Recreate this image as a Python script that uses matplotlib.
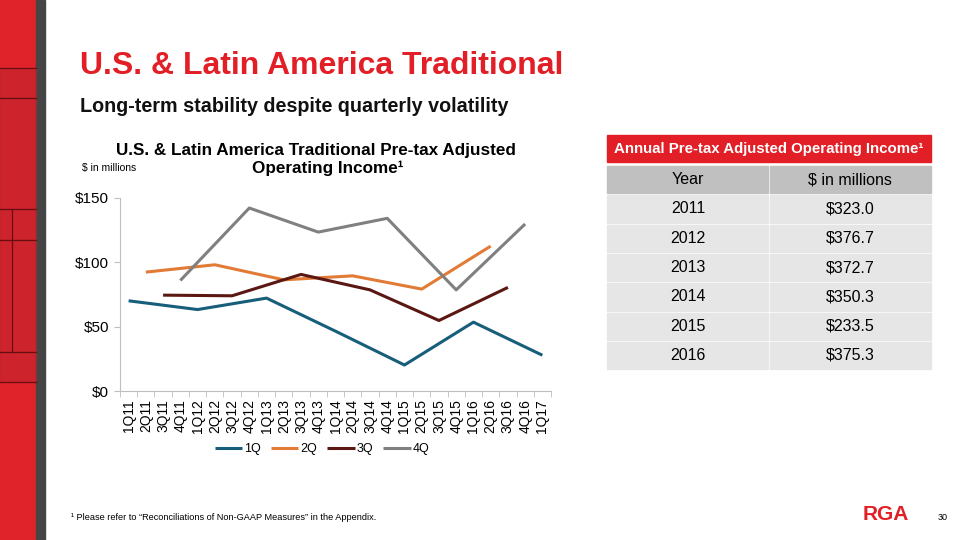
import numpy as np
import matplotlib.pyplot as plt
from matplotlib.patches import Rectangle

# Data
quarters = ["1Q11", "2Q11", "3Q11", "4Q11", "1Q12", "2Q12", "3Q12", "4Q12",
            "1Q13", "2Q13", "3Q13", "4Q13", "1Q14", "2Q14", "3Q14", "4Q14",
            "1Q15", "2Q15", "3Q15", "4Q15", "1Q16", "2Q16", "3Q16", "4Q16", "1Q17"]
q1 = [70.1, 63.3, 72.2, 46.5, 20.2, 53.5, 27.8]
q2 = [92.4, 98.1, 86.4, 89.5, 79.2, 112.6]
q3 = [74.5, 74.0, 90.6, 78.6, 54.8, 80.5]
q4 = [85.9, 142.2, 123.5, 134.2, 78.6, 129.8]
series_names = ["1Q", "2Q", "3Q", "4Q"]
series_colors = ["#175e7b", "#e27b36", "#5b1712", "#808080"]

years = ["2011", "2012", "2013", "2014", "2015", "2016"]
annual = ["$323.0", "$376.7", "$372.7", "$350.3", "$233.5", "$375.3"]

RED = "#e21f26"

fig = plt.figure(figsize=(9.6, 5.4), dpi=100)
plt.rcParams['font.family'] = ['Liberation Sans', 'DejaVu Sans']

def px(x, y):
    return x / 960, 1 - y / 540

# left decoration strip
fig.patches.append(Rectangle((0, 0), 36 / 960, 1, transform=fig.transFigure, color="#e0222b", zorder=0))
fig.patches.append(Rectangle((36 / 960, 0), 9 / 960, 1, transform=fig.transFigure, color="#454545", zorder=0))
for (y0, y1) in [(68, 98), (98, 209), (209, 240), (240, 352), (352, 382)]:
    fig.patches.append(Rectangle((0, 1 - y1 / 540), 36 / 960, (y1 - y0) / 540,
                                 transform=fig.transFigure, color="#b52630", alpha=0.45, zorder=1))
for yy in [68, 98, 209, 240, 352, 382]:
    fig.add_artist(plt.Line2D([0, 36 / 960], [1 - yy / 540] * 2, transform=fig.transFigure, color="#6a0d10", lw=0.9))
fig.add_artist(plt.Line2D([12 / 960] * 2, [1 - 209 / 540, 1 - 352 / 540], transform=fig.transFigure, color="#6a0d10", lw=0.9))

# titles
fig.text(*px(80, 66), "U.S. & Latin America Traditional", color=RED, fontsize=23, fontweight="bold", va="center")
fig.text(*px(80, 107), "Long-term stability despite quarterly volatility", color="#111111", fontsize=14.2, fontweight="bold", va="center")

# chart
ax = fig.add_axes([120 / 960, 1 - 391 / 540, 431 / 960, 193 / 540])
x_all = np.arange(len(quarters))
for k, (vals, name, col) in enumerate(zip([q1, q2, q3, q4], series_names, series_colors)):
    xs = x_all[k::4][:len(vals)]
    ax.plot(xs, vals, color=col, lw=2.2, label=name, solid_capstyle="butt")

ax.set_xlim(-0.5, len(quarters) - 0.5)
ax.set_ylim(0, 150)
ax.set_yticks([0, 50, 100, 150])
ax.set_yticklabels(["$0", "$50", "$100", "$150"], fontsize=11)
ax.set_xticks(x_all)
ax.set_xticklabels(quarters, rotation=90, fontsize=10)
ax.set_xticks(np.arange(-0.5, len(quarters)), minor=True)
ax.tick_params(axis="x", which="major", length=0, pad=6)
ax.tick_params(axis="x", which="minor", length=4, color="#bfbfbf")
ax.tick_params(axis="y", length=4, color="#bfbfbf", pad=4)
for s in ["top", "right"]:
    ax.spines[s].set_visible(False)
for s in ["left", "bottom"]:
    ax.spines[s].set_color("#bfbfbf")
ax.patch.set_alpha(0)

fig.text(*px(316, 150), "U.S. & Latin America Traditional Pre-tax Adjusted", ha="center", va="center", fontsize=12.3, fontweight="bold")
fig.text(*px(328, 168), "Operating Income\u00b9", ha="center", va="center", fontsize=12.3, fontweight="bold")
fig.text(*px(82, 168), "$ in millions", fontsize=7.5, va="center")

fig.legend(loc="center", bbox_to_anchor=px(322, 449), ncol=4, frameon=False, fontsize=9,
           handlelength=2.2, columnspacing=0.8, handletextpad=0.15)

# table
tx0, tx1, tmid = 607, 931, 769
fig.patches.append(Rectangle(px(tx0, 162), (tx1 - tx0) / 960, 27 / 540, transform=fig.transFigure, color=RED))
fig.text(*px(tx0 + 7, 149), "Annual Pre-tax Adjusted Operating Income\u00b9", color="white", fontsize=10.8,
         fontweight="bold", va="center")
row_h = 29.3
top = 166
rows = [("Year", "$ in millions")] + list(zip(years, annual))
for i, (a, b) in enumerate(rows):
    y0 = top + i * row_h
    col = "#c0c0c0" if i == 0 else "#e6e6e6"
    for (cx0, cx1) in [(tx0, tmid - 1), (tmid + 1, tx1)]:
        fig.patches.append(Rectangle(px(cx0, y0 + row_h - 2), (cx1 - cx0) / 960, (row_h - 2) / 540,
                                     transform=fig.transFigure, color=col))
    yc = y0 + (row_h - 2) / 2
    fig.text(*px((tx0 + tmid) / 2, yc), a, ha="center", va="center", fontsize=11.5)
    fig.text(*px((tmid + tx1) / 2, yc), b, ha="center", va="center", fontsize=11.5)

# footer
fig.text(*px(71, 518), "\u00b9 Please refer to \u201cReconciliations of Non-GAAP Measures\u201d in the Appendix.",
         fontsize=6.6, va="center")
fig.text(*px(886, 515), "RGA", color=RED, fontsize=15, fontweight="bold", ha="center", va="center")
fig.text(*px(938, 518), "30", fontsize=6.5, va="center")

fig.savefig("out.png", dpi=100)
